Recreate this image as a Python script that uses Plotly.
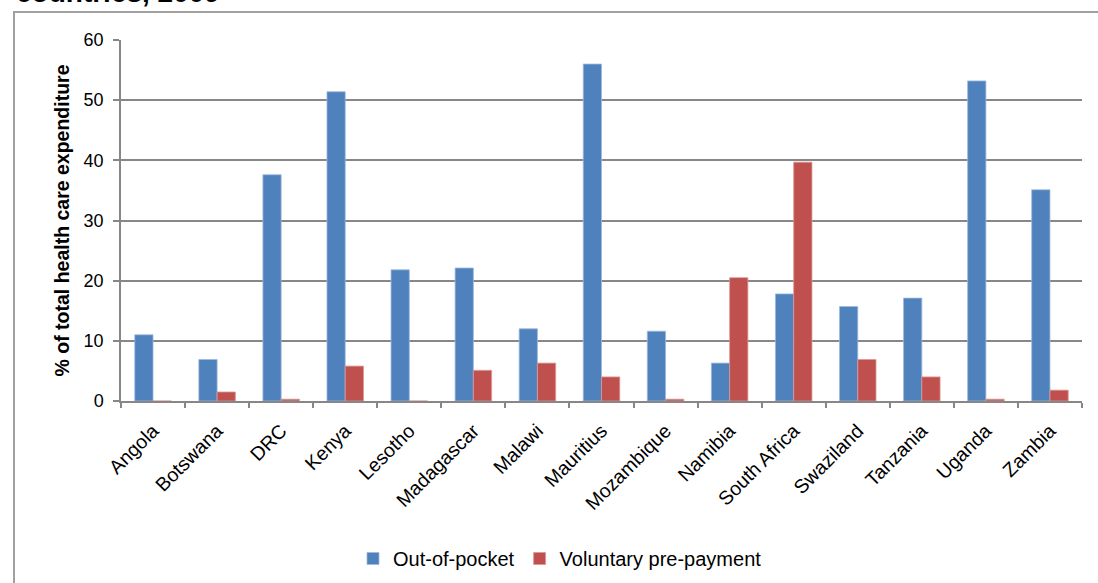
import plotly.graph_objects as go

# Private health spending shares by country (% of total health care expenditure)
countries = ["Angola", "Botswana", "DRC", "Kenya", "Lesotho", "Madagascar", "Malawi",
             "Mauritius", "Mozambique", "Namibia", "South Africa", "Swaziland",
             "Tanzania", "Uganda", "Zambia"]
out_of_pocket = [11.0, 6.9, 37.6, 51.4, 21.8, 22.1, 12.0, 56.0, 11.6, 6.3, 17.8, 15.7, 17.1, 53.2, 35.1]
voluntary_prepayment = [0.0, 1.5, 0.3, 5.8, 0.0, 5.1, 6.3, 4.0, 0.3, 20.5, 39.7, 6.9, 4.0, 0.3, 1.8]
y_ticks = [0, 10, 20, 30, 40, 50, 60]

BLUE = "#4F81BD"
RED = "#C0504D"
GRID = "#878787"
FONT = "Liberation Sans, Arial, sans-serif"

fig = go.Figure()
fig.add_trace(go.Bar(
    x=countries, y=out_of_pocket, name="Out-of-pocket",
    marker=dict(color=BLUE, line=dict(color="#9DB9DC", width=0.8)),
))
fig.add_trace(go.Bar(
    x=countries, y=voluntary_prepayment, name="Voluntary pre-payment",
    marker=dict(color=RED, line=dict(color="#DA9896", width=0.8)),
))

W, H = 1098, 583
L, R, T, B = 121, 16, 40, 182
pw, ph = W - L - R, H - T - B


def px_x(p):
    return (p - L) / pw


def px_y(p):
    return (H - B - p) / ph


fig.update_layout(
    width=W, height=H,
    margin=dict(l=L, r=R, t=T, b=B, autoexpand=False),
    paper_bgcolor="white", plot_bgcolor="white",
    barmode="group", bargap=0.43, bargroupgap=0,
    font=dict(family=FONT, color="black"),
    showlegend=True,
    legend=dict(
        orientation="h", x=px_x(353), xanchor="left", y=px_y(539), yanchor="top",
        font=dict(size=20, family=FONT), itemwidth=30, bgcolor="rgba(0,0,0,0)",
        traceorder="normal",
    ),
    xaxis=dict(
        type="category", tickson="boundaries", ticks="outside", ticklen=5,
        tickcolor=GRID, tickwidth=1.5, showline=True, linecolor=GRID, linewidth=1.5,
        tickangle=-45, tickfont=dict(size=19.5, family=FONT), ticklabelstandoff=9,
        showgrid=False, fixedrange=True,
    ),
    yaxis=dict(
        range=[0, 60], tickvals=y_ticks, ticks="outside", ticklen=6,
        tickcolor=GRID, tickwidth=1.5, showline=True, linecolor=GRID, linewidth=1.5,
        showgrid=True, gridcolor=GRID, gridwidth=1.5, zeroline=False,
        tickfont=dict(size=18, family=FONT), ticklabelstandoff=6,
        title=dict(text="<b>% of total health care expenditure</b>",
                   font=dict(size=19.5, family=FONT), standoff=9),
        fixedrange=True,
    ),
    shapes=[
        # outer chart frame
        dict(type="rect", xref="paper", yref="paper",
             x0=px_x(14), x1=px_x(W + 20), y0=px_y(H + 20), y1=px_y(12),
             line=dict(color="#A0A0A0", width=2), fillcolor="rgba(0,0,0,0)", layer="below"),
    ],
    annotations=[
        dict(text="<b>countries, 2009</b>", xref="paper", yref="paper",
             x=px_x(14), xanchor="left", y=px_y(10), yanchor="bottom",
             showarrow=False, font=dict(size=28, family=FONT, color="black")),
    ],
)

fig.write_html("out.html")
